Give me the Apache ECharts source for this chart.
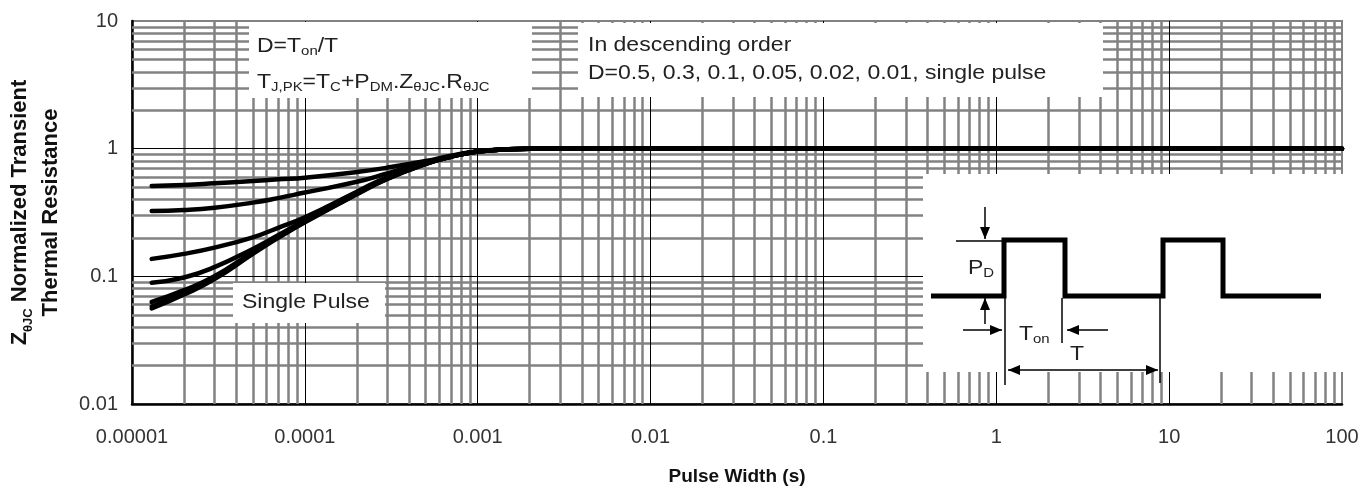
<!DOCTYPE html>
<html>
<head>
<meta charset="utf-8">
<script src="https://cdn.jsdelivr.net/npm/echarts@6.0.0/dist/echarts.min.js"></script>
<style>
  html, body { margin: 0; padding: 0; background: #fff; }
  #chart { width: 1365px; height: 491px; }
</style>
</head>
<body>
<div id="chart"></div>
<script>
// pulse width (s), shared by all curves
const pulseWidth = [1.3e-5, 2e-5, 3e-5, 5e-5, 7e-5, 1e-4, 2e-4, 3e-4, 5e-4, 7e-4, 1e-3, 1.5e-3, 2e-3, 1e-2, 100];

// normalized transient thermal resistance
const zD05    = [0.51, 0.519, 0.535, 0.558, 0.575, 0.593, 0.656, 0.71, 0.80, 0.88, 0.955, 0.99, 1.0, 1.0, 1.0];
const zD03    = [0.325, 0.331, 0.345, 0.378, 0.41, 0.453, 0.55, 0.64, 0.78, 0.87, 0.95, 0.99, 1.0, 1.0, 1.0];
const zD01    = [0.137, 0.15, 0.168, 0.202, 0.24, 0.29, 0.46, 0.60, 0.77, 0.87, 0.95, 0.99, 1.0, 1.0, 1.0];
const zD005   = [0.089, 0.098, 0.118, 0.164, 0.21, 0.275, 0.45, 0.59, 0.765, 0.865, 0.95, 0.99, 1.0, 1.0, 1.0];
const zD002   = [0.063, 0.078, 0.10, 0.155, 0.205, 0.27, 0.445, 0.585, 0.76, 0.865, 0.95, 0.99, 1.0, 1.0, 1.0];
const zD001   = [0.058, 0.074, 0.097, 0.152, 0.202, 0.267, 0.442, 0.582, 0.76, 0.865, 0.95, 0.99, 1.0, 1.0, 1.0];
const zSingle = [0.056, 0.072, 0.095, 0.15, 0.20, 0.265, 0.44, 0.58, 0.76, 0.865, 0.95, 0.99, 1.0, 1.0, 1.0];

const curveNames = ['D=0.5', 'D=0.3', 'D=0.1', 'D=0.05', 'D=0.02', 'D=0.01', 'single pulse'];
const curveValues = [zD05, zD03, zD01, zD005, zD002, zD001, zSingle];

// axis ticks
const xDecades = [1e-5, 1e-4, 1e-3, 1e-2, 1e-1, 1, 10, 100];
const xTickLabels = ['0.00001', '0.0001', '0.001', '0.01', '0.1', '1', '10', '100'];
const yDecades = [0.01, 0.1, 1, 10];
const yTickLabels = ['0.01', '0.1', '1', '10'];
const minorSteps = [2, 3, 4, 5, 6, 7, 8, 9];

const FONT = 'Liberation Sans, Arial, sans-serif';
const SX = 1.15; // the reference text is a bit wide

function minorOf(decades) {
  let out = [];
  for (let i = 0; i < decades.length - 1; i++) {
    minorSteps.forEach(m => out.push(decades[i] * m));
  }
  return out;
}
function pickLabel(values, labels, v) {
  let best = 0;
  values.forEach((d, i) => {
    if (Math.abs(Math.log10(d) - Math.log10(v)) < Math.abs(Math.log10(values[best]) - Math.log10(v))) best = i;
  });
  return labels[best];
}

let myChart = echarts.init(document.getElementById('chart'));

// rich styles for sub-scripts
const rich = {
  n: { fontSize: 20, fontFamily: FONT, lineHeight: 24, fill: '#222' },
  s: { fontSize: 13, fontFamily: FONT, lineHeight: 14, verticalAlign: 'bottom', fill: '#222' }
};

// layers: 0 = grid, 1 = white boxes, 2 = curves and text
function txt(x, y, text) {
  return {
    type: 'text', x: x, y: y, scaleX: SX, zlevel: 2, z: 20,
    style: { text: text, rich: rich, fontSize: 20, fontFamily: FONT, fill: '#222', verticalAlign: 'middle', align: 'left' }
  };
}
function box(x, y, w, h) {
  return { type: 'rect', zlevel: 1, z: 5, shape: { x: x, y: y, width: w, height: h }, style: { fill: '#fff' } };
}
function seg(x1, y1, x2, y2, w) {
  return { type: 'line', zlevel: 2, z: 20, shape: { x1: x1, y1: y1, x2: x2, y2: y2 }, style: { stroke: '#000', lineWidth: w || 1.5 } };
}
function head(x1, y1, x2, y2) {
  let len = Math.hypot(x2 - x1, y2 - y1), ux = (x2 - x1) / len, uy = (y2 - y1) / len;
  let bx = x2 - ux * 12, by = y2 - uy * 12;
  return { type: 'polygon', zlevel: 2, z: 20, shape: { points: [[x2, y2], [bx - uy * 5, by + ux * 5], [bx + uy * 5, by - ux * 5]] }, style: { fill: '#000' } };
}
function arrow(x1, y1, x2, y2) {
  return [seg(x1, y1, x2, y2), head(x1, y1, x2, y2)];
}

// inset: duty cycle sketch
let inset = [
  box(923, 174, 421, 198),
  { type: 'polyline', zlevel: 2, z: 20,
    shape: { points: [[931, 296], [1004, 296], [1004, 240], [1065, 240], [1065, 296], [1163, 296], [1163, 240], [1223, 240], [1223, 296], [1321, 296]] },
    style: { stroke: '#000', lineWidth: 5, fill: null, lineJoin: 'miter' } },
  seg(956, 241, 1002, 241),
  ...arrow(985, 207, 985, 239),
  ...arrow(985, 324, 985, 298),
  seg(1005, 298, 1005, 385),
  seg(1062, 298, 1062, 343),
  ...arrow(963, 330, 1002, 330),
  ...arrow(1108, 330, 1067, 330),
  seg(1160, 298, 1160, 383),
  ...arrow(1080, 370, 1008, 370),
  ...arrow(1080, 370, 1158, 370),
  txt(968, 268, '{n|P}{s|D}'),
  txt(1019, 334, '{n|T}{s|on}'),
  txt(1070, 354, '{n|T}')
];

let gridMinor = minorOf(xDecades).map(v => ({ xAxis: v }))
  .concat(minorOf(yDecades).map(v => ({ yAxis: v })));
let gridMajor = xDecades.slice(1, -1).map(v => ({ xAxis: v }))
  .concat(yDecades.slice(1, -1).map(v => ({ yAxis: v })));

// markLine rounds to 2 decimals by default, which kills the small x values
let series = [
  {
    name: 'minor', type: 'line', zlevel: 0, z: 1, silent: true, data: [],
    markLine: { silent: true, animation: false, precision: 12, symbol: ['none', 'none'], label: { show: false },
      lineStyle: { color: '#828282', width: 2.5, type: 'solid' }, emphasis: { disabled: true }, data: gridMinor }
  },
  {
    name: 'major', type: 'line', zlevel: 0, z: 2, silent: true, data: [],
    markLine: { silent: true, animation: false, precision: 12, symbol: ['none', 'none'], label: { show: false },
      lineStyle: { color: '#000', width: 1, type: 'solid' }, emphasis: { disabled: true }, data: gridMajor }
  }
];
curveNames.forEach((name, k) => {
  series.push({
    name: name,
    type: 'line',
    zlevel: 2,
    z: 10,
    smooth: 0.5,
    showSymbol: false,
    silent: true,
    lineStyle: { color: '#000', width: 4.5, cap: 'round' },
    data: pulseWidth.map((x, i) => [x, curveValues[k][i]])
  });
});

let option = {
  animation: false,
  backgroundColor: '#fff',
  grid: {
    left: 132, right: 23, top: 21, bottom: 86,
    show: true, borderColor: '#828282', borderWidth: 2
  },
  xAxis: {
    type: 'log', logBase: 10, min: 1e-5, max: 100, splitNumber: 7,
    name: 'Pulse Width (s)', nameLocation: 'middle', nameGap: 63,
    nameTextStyle: { fontSize: 19, fontWeight: 'bold', fontFamily: FONT, color: '#111' },
    axisLine: { lineStyle: { color: '#000', width: 2.5 } },
    axisTick: { show: false },
    splitLine: { show: false },
    axisLabel: {
      margin: 23, fontSize: 20, fontFamily: FONT, color: '#333',
      formatter: v => pickLabel(xDecades, xTickLabels, v)
    }
  },
  yAxis: {
    type: 'log', logBase: 10, min: 0.01, max: 10, splitNumber: 3,
    name: '{b|Z}{s|θJC}{b| Normalized Transient}\n{b|Thermal Resistance}',
    nameLocation: 'middle', nameGap: 66,
    nameTextStyle: {
      fontFamily: FONT, color: '#111',
      rich: {
        b: { fontSize: 22, fontWeight: 'bold', fontFamily: FONT, lineHeight: 31, color: '#111' },
        s: { fontSize: 13, fontWeight: 'bold', fontFamily: FONT, lineHeight: 14, verticalAlign: 'bottom', color: '#111' }
      }
    },
    axisLine: { lineStyle: { color: '#000', width: 2.5 } },
    axisTick: { show: false },
    splitLine: { show: false },
    axisLabel: {
      margin: 14, fontSize: 20, fontFamily: FONT, color: '#333',
      formatter: v => pickLabel(yDecades, yTickLabels, v)
    }
  },
  graphic: [
    // formula box
    box(249, 22, 283, 76),
    txt(257, 46, '{n|D=T}{s|on}{n|/T}'),
    txt(257, 82, '{n|T}{s|J,PK}{n|=T}{s|C}{n|+P}{s|DM}{n|.Z}{s|θJC}{n|.R}{s|θJC}'),
    // order note
    box(578, 23, 525, 74),
    txt(588, 45, 'In descending order'),
    txt(588, 73, 'D=0.5, 0.3, 0.1, 0.05, 0.02, 0.01, single pulse'),
    // single pulse tag
    box(233, 283, 152, 40),
    txt(242, 302, 'Single Pulse'),
    ...inset
  ],
  series: series
};

myChart.setOption(option);
window.onresize = function () {
  myChart.resize();
};
</script>
</body>
</html>
